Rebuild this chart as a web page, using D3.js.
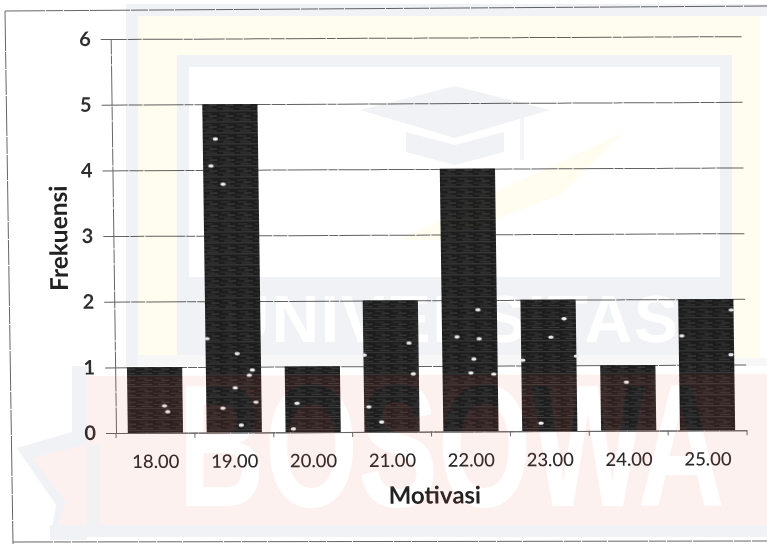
<!DOCTYPE html>
<html>
<head>
<meta charset="utf-8">
<script src="https://cdn.jsdelivr.net/npm/d3@7/dist/d3.min.js"></script>
<style>
  html, body { margin: 0; padding: 0; background: #fff; }
  svg { display: block; }
  text { font-family: Lato, "Open Sans", sans-serif; }
</style>
</head>
<body>
<div id="chart"></div>
<script>
// Frequency of each Motivasi score
const categories = ["18.00", "19.00", "20.00", "21.00", "22.00", "23.00", "24.00", "25.00"];
const frequencies = [1, 5, 1, 2, 4, 2, 1, 2];
const yTicks = [0, 1, 2, 3, 4, 5, 6];

// Paper flecks on the printed bars: [score, frequency]
const flecks = [
  [18.12, .41], [18.16, .32], [19.05, 1.20], [19.24, .95], [19.20, .87], [19.02, .68],
  [18.86, .37], [19.28, .46], [19.09, .11], [18.67, 1.43], [18.81, 4.47], [18.75, 4.06],
  [18.90, 3.78], [19.80, .44], [19.75, .05], [20.71, .38], [20.87, .15], [21.23, 1.35],
  [21.28, .88], [20.66, 1.17], [22.11, 1.85], [21.84, 1.44], [22.12, 1.41], [22.05, 1.10],
  [22.01, .89], [22.30, .87], [23.20, 1.71], [23.03, 1.43], [23.35, 1.14], [22.67, 1.08],
  [22.89, .12], [23.98, .74], [25.32, 1.83], [24.69, 1.44], [25.31, 1.15]
];

const width = 767, height = 544;
const origin = { x: 116, y: 433 };
const plotWidth = 631, plotTop = 39;
const shearX = 0.0135, shearY = -0.0045; // the scanned page sits slightly askew

const svg = d3.select("#chart").append("svg")
  .attr("width", width).attr("height", height).style("background", "#fff");

// Print texture for the bars
const defs = svg.append("defs");
const tex = defs.append("pattern").attr("id", "ink")
  .attr("patternUnits", "userSpaceOnUse").attr("width", 17).attr("height", 11);
tex.append("rect").attr("width", 17).attr("height", 11).attr("fill", "#1d1d1d");
[[0, 1, 17, "#404040"], [3, 4, 9, "#363636"], [9, 6, 8, "#444444"], [1, 8, 12, "#333333"], [6, 10, 11, "#3c3c3c"]]
  .forEach(([rx, ry, rw, fill]) =>
    tex.append("rect").attr("x", rx).attr("y", ry).attr("width", rw).attr("height", 1).attr("fill", fill));
defs.append("filter").attr("id", "soft").append("feGaussianBlur").attr("stdDeviation", 0.7);

// Page border
const border = svg.append("g").attr("stroke", "#666").attr("fill", "none")
  .attr("stroke-width", 1).attr("stroke-dasharray", "40 1 17 1 25 1");
[[[5, 11], [767, 6]], [[5, 11], [13, 544]], [[13, 542], [767, 541]]].forEach(seg =>
  border.append("path").attr("d", d3.line()(seg)));

const g = svg.append("g").attr("transform",
  `matrix(1,${shearY},${shearX},1,${-shearX * origin.y},${-shearY * origin.x})`);

const x = d3.scaleBand().domain(categories)
  .range([origin.x, origin.x + plotWidth]).paddingInner(0.3).paddingOuter(0.15);
const y = d3.scaleLinear().domain([0, 6]).range([origin.y, plotTop]);
const fleckX = d3.scaleLinear().domain([18, 25])
  .range([x("18.00") + x.bandwidth() / 2, x("25.00") + x.bandwidth() / 2]);

const gridDash = "26 1 14 1 40 1 9 1 31 1 17 1";

// Value axis and gridlines
const yAxis = g.append("g").attr("transform", `translate(${origin.x},0)`)
  .call(d3.axisLeft(y).tickValues(yTicks).tickFormat(d3.format("d")).tickSize(0).tickPadding(20));
yAxis.select(".domain").attr("stroke", "#666").attr("stroke-dasharray", gridDash);
yAxis.selectAll(".tick line")
  .attr("x1", -10).attr("x2", plotWidth)
  .attr("stroke", "#626262").attr("stroke-width", 1).attr("stroke-dasharray", gridDash);
yAxis.selectAll(".tick text")
  .attr("font-size", 20).attr("font-weight", 700).attr("fill", "#2f2f2f")
  .style("font-family", "Lato, sans-serif");

// Bars
g.selectAll("rect.bar").data(categories).join("rect").attr("class", "bar")
  .attr("x", d => x(d))
  .attr("y", (d, i) => y(frequencies[i]))
  .attr("width", x.bandwidth())
  .attr("height", (d, i) => y(0) - y(frequencies[i]))
  .attr("fill", "url(#ink)");

g.selectAll("ellipse.fleck").data(flecks).join("ellipse").attr("class", "fleck")
  .attr("cx", d => fleckX(d[0])).attr("cy", d => y(d[1]))
  .attr("rx", 2.7).attr("ry", 1.7).attr("fill", "#f2f2f2").attr("filter", "url(#soft)");

// Category axis
const step = x.step();
const xAxis = g.append("g").attr("transform", `translate(0,${origin.y})`)
  .call(d3.axisBottom(x).tickSize(0).tickPadding(22));
xAxis.select(".domain").attr("stroke", "#666");
xAxis.selectAll(".tick text")
  .attr("font-size", 18.5).attr("font-weight", 500).attr("fill", "#2a2a2a")
  .style("font-family", "Lato, sans-serif");
g.append("g").attr("stroke", "#666").selectAll("line")
  .data(d3.range(categories.length + 1)).join("line")
  .attr("x1", i => origin.x + i * step).attr("x2", i => origin.x + i * step)
  .attr("y1", origin.y).attr("y2", origin.y + 5);

// Axis titles
g.append("text").attr("x", 434).attr("y", 505).attr("text-anchor", "middle")
  .attr("font-size", 24).attr("font-weight", 700).attr("fill", "#222").text("Motivasi");
g.append("text").attr("transform", "translate(70,238) rotate(-90)").attr("text-anchor", "middle")
  .attr("font-size", 24.5).attr("font-weight", 700).attr("fill", "#222").text("Frekuensi");

// University watermark printed behind the chart, tinting everything it crosses
const wm = svg.append("g").style("mix-blend-mode", "multiply").attr("fill", "#fff");
const grey = "#f1f2f5", cream = "#fffcf0", pink = "#fdf1ef";
const box = (x0, y0, x1, y1, fill) =>
  wm.append("rect").attr("x", x0).attr("y", y0).attr("width", x1 - x0).attr("height", y1 - y0).attr("fill", fill);
const poly = (pts, fill, layer = wm) => layer.append("polygon").attr("points", pts.join(" ")).attr("fill", fill);

box(0, 0, width, height, "#fff");
box(126, 4, width, 366, grey);
box(138, 16, width, 358, cream);
box(177, 55, 732, 355, grey);
box(189, 67, 720, 277, "#fff");
box(138, 355, width, 366, "#f7f7f7");
box(732, 355, width, 358, cream);
box(760, 16, width, 358, "#fff");

// Graduation cap and pencil stroke
poly([[360, 110], [455, 86], [550, 110], [455, 138]], grey);
poly([[406, 132], [455, 145], [504, 132], [504, 152], [455, 165], [406, 152]], grey);
box(520, 118, 524, 160, "#f4f5f6");
poly([[624, 132], [500, 190], [400, 240], [440, 240], [560, 195]], cream);

wm.append("text").attr("x", 222).attr("y", 342)
  .attr("textLength", 456).attr("lengthAdjust", "spacing")
  .attr("font-size", 66).attr("font-weight", 700)
  .style("font-family", "Liberation Sans").text("UNIVERSITAS");

// Star emblem and the lower band
const pinkArea = [[87, 376], [width, 374], [width, 525], [58, 525], [66, 502], [33, 458], [87, 444]];
poly([[72, 366], [87, 366], [87, 540], [50, 540], [56, 505], [17, 448], [72, 432]], grey);
box(50, 525, width, 537, grey);
poly(pinkArea, pink);
box(87, 444, 100, 537, grey);
wm.append("text").attr("id", "emblem-name")
  .attr("transform", "translate(178,506) scale(1,1.45)")
  .attr("font-size", 120).attr("font-weight", 700)
  .style("font-family", "Liberation Sans").text("BOSOWA");

// The red ink also warms the dark bars where the band runs under them
const warm = svg.append("g").style("mix-blend-mode", "screen");
poly(pinkArea, "#130504", warm);
warm.append("use").attr("href", "#emblem-name").attr("fill", "#000");
</script>
</body>
</html>
